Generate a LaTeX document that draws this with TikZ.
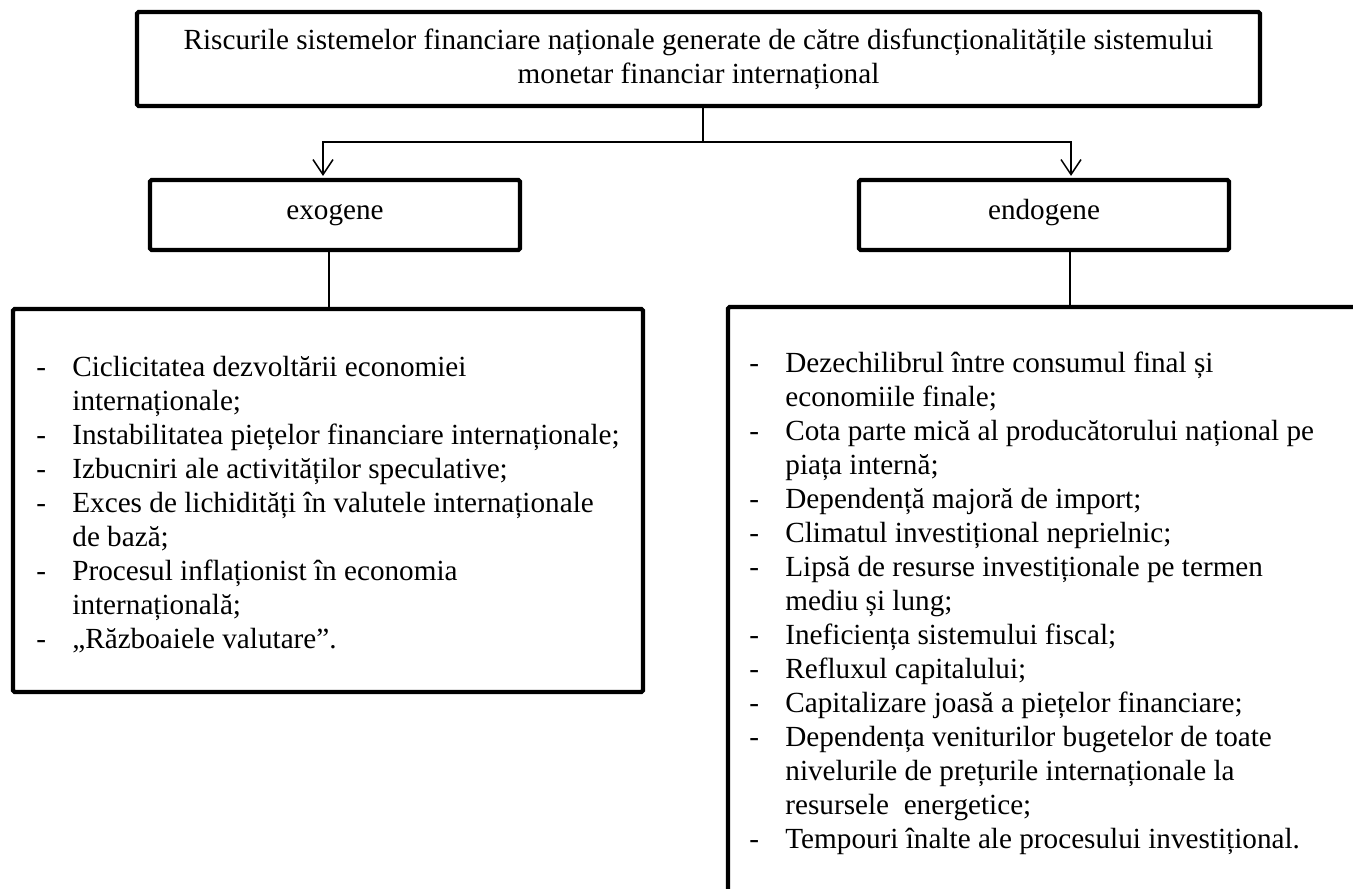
\documentclass[tikz,border=0pt]{standalone}
\usepackage{fontspec}
\setmainfont{Liberation Serif}
\usetikzlibrary{arrows.meta}
\begin{document}
\begin{tikzpicture}[x=0.5pt,y=-0.5pt,
  every node/.style={font=\fontsize{14.6pt}{17pt}\selectfont},
  frame/.style={draw, line width=2.1pt, rounded corners=0.8pt, inner sep=0pt},
  label/.style={frame, minimum width=185pt, minimum height=35pt, text height=7pt, text depth=3pt},
  link/.style={line width=0.75pt},
  arr/.style={link, shorten >=1pt, -{Straight Barb[length=7.5pt,width=10pt,line width=0.75pt]}},
  listtext/.style={anchor=base west, inner sep=0pt}]
\useasboundingbox (0,0) rectangle (1353,888);
\fill[white] (0,0) rectangle (1353,888);
\clip (0,0) rectangle (1353,888);

% boxes
\node[frame, minimum width=561.5pt, minimum height=47pt, align=center] (head) at (698.5,59)
  {Riscurile sistemelor financiare naționale generate de către disfuncționalitățile sistemului\\monetar financiar internațional};
\node[label] (exo) at (335,215) {exogene};
\node[label] (endo) at (1044,215) {endogene};
\node[frame, minimum width=315pt, minimum height=191.5pt] (lbox) at (328,500.5) {};
\node[frame, minimum width=336pt, minimum height=321.5pt] (rbox) at (1064,628.5) {};

% lists
\node[listtext] (ltext) at (36,376) {\begin{tabular}[t]{@{}p{18pt}@{}l@{}}
-&Ciclicitatea dezvoltării economiei\\
&internaționale;\\
-&Instabilitatea piețelor financiare internaționale;\\
-&Izbucniri ale activităților speculative;\\
-&Exces de lichidități în valutele internaționale\\
&de bază;\\
-&Procesul inflaționist în economia\\
&internațională;\\
-&„Războaiele valutare”.
\end{tabular}};

\node[listtext] (rtext) at (749,372) {\begin{tabular}[t]{@{}p{18pt}@{}l@{}}
-&Dezechilibrul între consumul final și\\
&economiile finale;\\
-&Cota parte mică al producătorului național pe\\
&piața internă;\\
-&Dependență majoră de import;\\
-&Climatul investițional neprielnic;\\
-&Lipsă de resurse investiționale pe termen\\
&mediu și lung;\\
-&Ineficiența sistemului fiscal;\\
-&Refluxul capitalului;\\
-&Capitalizare joasă a piețelor financiare;\\
-&Dependența veniturilor bugetelor de toate\\
&nivelurile de prețurile internaționale la\\
&resursele\ \ energetice;\\
-&Tempouri înalte ale procesului investițional.
\end{tabular}};

% connectors
\coordinate (j) at (703,142);
\coordinate (ca) at (323,142);
\coordinate (cb) at (1071,142);
\draw[link] (head.south -| j) -- (j);
\draw[arr] (j) -| (exo.north -| ca);
\draw[arr] (j) -| (endo.north -| cb);
\coordinate (da) at (329,280);
\coordinate (db) at (1070,280);
\draw[link] (exo.south -| da) -- (lbox.north -| da);
\draw[link] (endo.south -| db) -- (rbox.north -| db);
\end{tikzpicture}
\end{document}
